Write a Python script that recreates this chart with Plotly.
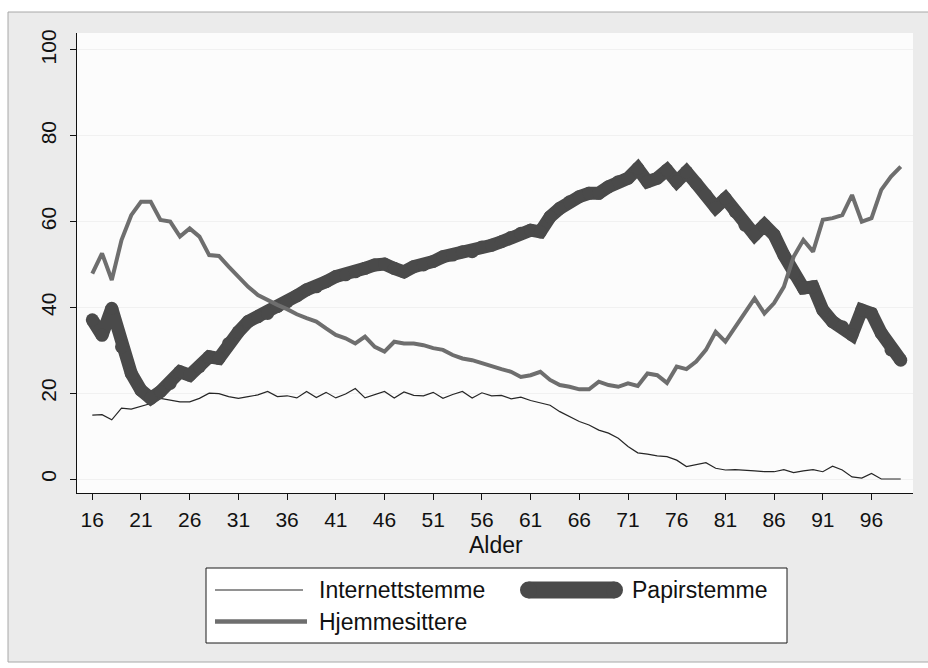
import plotly.graph_objects as go

# ---------------- data ----------------
ages = list(range(16, 100))

internettstemme = [
    14.9, 15.0, 13.8, 16.5, 16.3, 16.9, 17.6, 18.8, 18.4, 18.0,
    18.0, 18.8, 20.0, 19.9, 19.2, 18.8, 19.2, 19.6, 20.4, 19.2,
    19.4, 18.9, 20.4, 19.0, 20.2, 18.9, 19.8, 21.1, 18.9, 19.6,
    20.4, 18.9, 20.3, 19.5, 19.4, 20.2, 18.8, 19.7, 20.4, 18.9,
    20.1, 19.4, 19.5, 18.7, 19.1, 18.3, 17.8, 17.2, 15.7, 14.5,
    13.4, 12.6, 11.4, 10.7, 9.5, 7.6, 6.1, 5.8, 5.4, 5.2,
    4.4, 2.9, 3.3, 3.8, 2.5, 2.1, 2.2, 2.1, 1.9, 1.7,
    1.7, 2.2, 1.5, 1.9, 2.2, 1.7, 3.0, 2.1, 0.5, 0.2,
    1.3, 0.0, 0.0, 0.0,
]

papirstemme = [
    37.1, 33.5, 39.8, 30.8, 24.6, 20.7, 18.8, 20.4, 22.3, 25.0,
    24.2, 26.2, 28.5, 28.1, 31.6, 34.3, 36.7, 37.8, 38.6, 40.2,
    41.3, 42.7, 44.1, 44.8, 46.0, 47.2, 47.6, 48.3, 49.1, 49.9,
    50.1, 49.1, 48.3, 49.5, 49.9, 50.7, 51.8, 52.2, 53.0, 53.0,
    54.1, 54.5, 55.3, 56.3, 57.3, 58.0, 57.6, 61.1, 63.1, 64.6,
    65.8, 66.6, 66.6, 68.1, 69.3, 70.1, 72.4, 69.3, 70.1, 72.0,
    69.3, 71.6, 68.9, 66.2, 63.3, 65.4, 62.3, 59.2, 56.9, 59.2,
    56.9, 52.2, 47.9, 44.5, 44.8, 39.4, 36.7, 35.5, 33.6, 39.4,
    38.6, 34.0, 30.1, 27.7,
]

hjemmesittere = [
    47.9, 52.6, 46.4, 55.7, 61.5, 64.6, 64.6, 60.4, 60.0, 56.5,
    58.4, 56.5, 52.2, 52.0, 49.5, 47.2, 44.8, 42.9, 41.7, 40.6,
    39.6, 38.4, 37.5, 36.7, 35.1, 33.6, 32.8, 31.6, 33.2, 30.8,
    29.7, 32.0, 31.6, 31.6, 31.2, 30.5, 30.1, 28.9, 28.1, 27.7,
    27.0, 26.2, 25.6, 25.0, 23.8, 24.2, 25.0, 23.1, 21.9, 21.5,
    20.9, 20.9, 22.7, 21.9, 21.5, 22.3, 21.7, 24.6, 24.2, 22.4,
    26.2, 25.6, 27.4, 30.1, 34.3, 32.0, 35.5, 38.6, 42.1, 38.6,
    41.0, 44.8, 51.8, 55.7, 53.0, 60.4, 60.8, 61.5, 66.2, 60.0,
    60.8, 67.4, 70.5, 72.8,
]

x_ticks = list(range(16, 100, 5))
y_ticks = [0, 20, 40, 60, 80, 100]
series_names = ["Internettstemme", "Papirstemme", "Hjemmesittere"]
x_title = "Alder"

# ---------------- styling ----------------
W, H = 928, 668
L, R, T, B = 77, 913, 33, 493          # plot area in pixels
FONT = "Liberation Sans, Arial, sans-serif"
C_THIN = "#262626"
C_THICK = "#4a4a4a"
C_MED = "#6e6e6e"


def px(xp):
    return (xp - L) / (R - L)


def py(yp):
    return (B - yp) / (B - T)


fig = go.Figure()

fig.add_trace(go.Scatter(
    x=ages, y=internettstemme, mode="lines", name=series_names[0],
    line=dict(color=C_THIN, width=1.2), showlegend=False))

fig.add_trace(go.Scatter(
    x=ages, y=papirstemme, mode="lines+markers", name=series_names[1],
    line=dict(color=C_THICK, width=13),
    marker=dict(color=C_THICK, size=13, line=dict(width=0)),
    showlegend=False))

fig.add_trace(go.Scatter(
    x=ages, y=hjemmesittere, mode="lines", name=series_names[2],
    line=dict(color=C_MED, width=4), showlegend=False))

shapes = [
    # outer graph region
    dict(type="rect", xref="paper", yref="paper",
         x0=px(8), x1=px(940), y0=py(662), y1=py(12),
         fillcolor="#ebebeb", line=dict(color="#a8a8a8", width=1), layer="below"),
    # plot region
    dict(type="rect", xref="paper", yref="paper",
         x0=0, x1=1, y0=0, y1=1,
         fillcolor="#fcfcfc", line=dict(width=0), layer="below"),
    # legend box
    dict(type="rect", xref="paper", yref="paper",
         x0=px(206), x1=px(787), y0=py(643), y1=py(568),
         fillcolor="white", line=dict(color="#1a1a1a", width=1)),
    # legend samples
    dict(type="line", xref="paper", yref="paper",
         x0=px(215), x1=px(303), y0=py(590), y1=py(590),
         line=dict(color=C_THIN, width=1.2)),
    dict(type="line", xref="paper", yref="paper",
         x0=px(215), x1=px(307), y0=py(621.5), y1=py(621.5),
         line=dict(color=C_MED, width=4.5)),
    dict(type="line", xref="paper", yref="paper",
         x0=px(528.5), x1=px(614.5), y0=py(590), y1=py(590),
         line=dict(color=C_THICK, width=17)),
]
rcap = 8.5
for cx in (528.5, 614.5):
    shapes.append(dict(type="circle", xref="paper", yref="paper",
                       x0=px(cx - rcap), x1=px(cx + rcap),
                       y0=py(590 + rcap), y1=py(590 - rcap),
                       fillcolor=C_THICK, line=dict(width=0)))

annotations = [
    dict(text=x_title, xref="paper", yref="paper", x=px(496), y=py(545),
         xanchor="center", yanchor="middle", showarrow=False,
         font=dict(family=FONT, size=23, color="#111")),
    dict(text=series_names[0], xref="paper", yref="paper", x=px(317), y=py(590),
         xanchor="left", yanchor="middle", showarrow=False,
         font=dict(family=FONT, size=23, color="#111")),
    dict(text=series_names[1], xref="paper", yref="paper", x=px(630), y=py(590),
         xanchor="left", yanchor="middle", showarrow=False,
         font=dict(family=FONT, size=23, color="#111")),
    dict(text=series_names[2], xref="paper", yref="paper", x=px(317), y=py(621.5),
         xanchor="left", yanchor="middle", showarrow=False,
         font=dict(family=FONT, size=23, color="#111")),
]

fig.update_layout(
    width=W, height=H,
    margin=dict(l=L, r=W - R, t=T, b=H - B, pad=0),
    paper_bgcolor="white",
    plot_bgcolor="rgba(0,0,0,0)",
    font=dict(family=FONT, size=21, color="#111"),
    showlegend=False,
    shapes=shapes,
    annotations=annotations,
)

fig.update_xaxes(
    range=[14.43, 100.26],
    tickmode="array", tickvals=x_ticks, ticktext=[str(v) for v in x_ticks],
    ticks="outside", ticklen=6, tickwidth=1, tickcolor="#111",
    showline=True, linecolor="#111", linewidth=1,
    showgrid=False, zeroline=False,
    tickfont=dict(family=FONT, size=21, color="#111"),
    ticklabelstandoff=2,
)
fig.update_yaxes(
    range=[-3.26, 103.96],
    tickmode="array", tickvals=y_ticks, ticktext=[str(v) for v in y_ticks],
    ticks="outside", ticklen=6, tickwidth=1, tickcolor="#111",
    showline=True, linecolor="#111", linewidth=1,
    showgrid=True, gridcolor="#f1f1f1", gridwidth=1, zeroline=False,
    tickangle=-90,
    tickfont=dict(family=FONT, size=21, color="#111"),
    ticklabelstandoff=6,
)

fig.write_html(
    "out.html",
    config={"displayModeBar": False},
    post_script="document.body.style.margin='0px';document.body.style.overflow='hidden';",
)
